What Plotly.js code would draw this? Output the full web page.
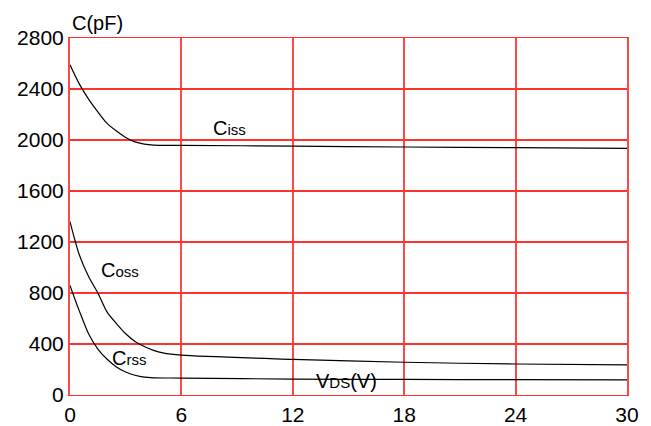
<!DOCTYPE html>
<html>
<head>
<meta charset="utf-8">
<script src="https://cdn.plot.ly/plotly-3.0.1.min.js"></script>
<style>html,body{margin:0;padding:0;background:#fff;}#chart{width:651px;height:426px;}</style>
</head>
<body>
<div id="chart"></div>
<script>
// Data
var vdsCiss = [0, 0.5, 1, 1.5, 2, 2.5, 3, 3.5, 4, 4.5, 6, 12, 18, 24, 30];
var ciss    = [2590, 2440, 2320, 2220, 2130, 2070, 2020, 1985, 1968, 1960, 1958, 1952, 1945, 1940, 1935];
var vdsCoss = [0, 0.5, 1, 1.5, 2, 2.5, 3, 3.5, 4, 4.5, 5, 6, 12, 18, 24, 30];
var coss    = [1360, 1100, 930, 800, 650, 560, 480, 420, 380, 350, 330, 312, 280, 257, 243, 236];
var vdsCrss = [0, 0.5, 1, 1.5, 2, 2.5, 3, 3.5, 4, 4.5, 6, 12, 18, 24, 30];
var crss    = [860, 660, 480, 360, 280, 220, 180, 155, 140, 135, 133, 125, 122, 120, 118];

var xTicks = [0, 6, 12, 18, 24, 30];
var yTicks = [0, 400, 800, 1200, 1600, 2000, 2400, 2800];

var lineStyle = {color: '#000', width: 1.2, shape: 'spline', smoothing: 0.8};
var traces = [
  {x: vdsCiss, y: ciss, mode: 'lines', line: lineStyle, name: 'Ciss', hoverinfo: 'skip'},
  {x: vdsCoss, y: coss, mode: 'lines', line: lineStyle, name: 'Coss', hoverinfo: 'skip'},
  {x: vdsCrss, y: crss, mode: 'lines', line: lineStyle, name: 'Crss', hoverinfo: 'skip'}
];

var fontFam = 'Liberation Sans, Arial, sans-serif';
function lab(big, small, tail, x, y) {
  return {
    text: big + '<span style="font-size:15px">' + small + '</span>' + tail,
    x: x, y: y, xref: 'x', yref: 'y', showarrow: false,
    font: {family: fontFam, size: 20, color: '#000'}
  };
}

var gridCol = '#ff3030';
var layout = {
  width: 651, height: 426,
  margin: {l: 70, r: 24, t: 38, b: 31},
  paper_bgcolor: '#fff', plot_bgcolor: '#fff',
  showlegend: false,
  font: {family: fontFam, size: 21, color: '#000'},
  xaxis: {
    range: [0, 30], tickvals: xTicks, ticktext: xTicks.map(String),
    showgrid: true, gridcolor: '#ff4848', gridwidth: 2,
    zeroline: false, showline: true, linecolor: gridCol, linewidth: 1.3, mirror: true,
    ticks: '', tickfont: {size: 21}, fixedrange: true
  },
  yaxis: {
    range: [0, 2800], tickvals: yTicks, ticktext: yTicks.map(String),
    showgrid: true, gridcolor: gridCol, gridwidth: 1.3,
    zeroline: false, showline: true, linecolor: '#ff4848', linewidth: 2, mirror: true,
    ticks: '', tickfont: {size: 21}, fixedrange: true
  },
  annotations: [
    {text: 'C(pF)', xref: 'paper', yref: 'paper', x: 0, y: 1, xanchor: 'left', yanchor: 'bottom',
     yshift: 2, showarrow: false, font: {family: fontFam, size: 20, color: '#000'}},
    lab('C', 'iss', '', 8.6, 2097),
    lab('C', 'oss', '', 2.7, 982),
    lab('C', 'rss', '', 3.2, 290),
    lab('V', 'DS', '(V)', 14.9, 110)
  ]
};

Plotly.newPlot('chart', traces, layout, {staticPlot: true, displayModeBar: false});
</script>
</body>
</html>
